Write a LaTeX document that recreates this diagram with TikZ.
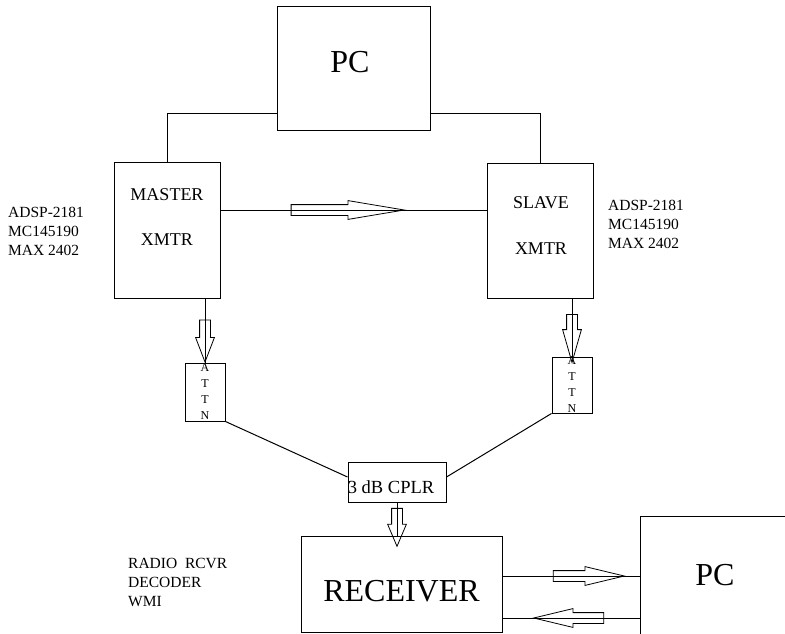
\documentclass[tikz,border=0pt]{standalone}
\usepackage{fontspec}
\setmainfont{Liberation Serif}
\usepackage{tikz}
\usetikzlibrary{shapes,shapes.arrows,arrows,positioning,calc}

\tikzset{
  blockbox/.style={draw, line width=1pt, inner sep=0pt},
  wire/.style={line width=1pt},
  fatarrow/.style={single arrow, draw, line width=0.8pt, inner sep=5pt,
    single arrow head extend=4pt, single arrow tip angle=#1},
  fatarrow/.default=30,
  bigtext/.style={font=\fontsize{32}{36}\selectfont},
  midtext/.style={font=\fontsize{18}{20}\selectfont},
  chips/.style={font=\fontsize{15.5}{19}\selectfont, align=left, inner sep=0pt, anchor=west},
  attnbox/.style={blockbox, minimum width=40pt, font=\fontsize{12}{16}\selectfont, align=center}
}

\begin{document}
\begin{tikzpicture}[x=1pt,y=-1pt]
  \useasboundingbox (0,0) rectangle (785,634);
  \clip (0,0) rectangle (785,634);

  % Top PC
  \node[blockbox, minimum width=153pt, minimum height=123pt] (pcTop) at (353.5,68.5) {};
  \node[bigtext] (pcTopText) at (350,62) {PC};

  % Transmitters
  \node[blockbox, minimum width=106pt, minimum height=136pt] (master) at (167,230) {};
  \node[midtext] (masterTop) at (167,195) {MASTER};
  \node[midtext] (masterBot) at (167,240) {XMTR};
  \node[blockbox, minimum width=106pt, minimum height=135pt] (slave) at (540,230.5) {};
  \node[midtext] (slaveTop) at (541,203) {SLAVE};
  \node[midtext] (slaveBot) at (541,249) {XMTR};

  % Chip lists
  \node[chips] (chipsL) at (8,231) {ADSP-2181\\MC145190\\MAX 2402};
  \node[chips] (chipsR) at (608,224) {ADSP-2181\\MC145190\\MAX 2402};
  \node[chips] (rcvrList) at (128,582) {RADIO\ \ RCVR\\DECODER\\WMI};

  % Attenuators and coupler
  \node[attnbox, minimum height=58pt] (attnL) at (205,392) {A\\T\\T\\N};
  \node[attnbox, minimum height=56pt] (attnR) at (572,385) {A\\T\\T\\N};
  \node[blockbox, minimum width=98pt, minimum height=40pt] (cplr) at (397,482) {};
  \node[font=\fontsize{18.5}{20}\selectfont] (cplrText) at (391,487) {3 dB CPLR};

  % Receiver and bottom PC
  \node[blockbox, minimum width=201pt, minimum height=96pt] (rcvr) at (401.5,584) {};
  \node[bigtext] (rcvrText) at (401.5,591) {RECEIVER};
  \node[blockbox, minimum width=160pt, minimum height=124pt] (pcBot) at (720,578) {};
  \node[bigtext] (pcBotText) at (715,575) {PC};

  % PC to transmitters
  \draw[wire] ([yshift=-44.5pt]pcTop.west) -| (master.north);
  \draw[wire] ([yshift=-44.5pt]pcTop.east) -| (slave.north);

  % Master to slave link
  \draw[wire] ([yshift=20pt]master.east) -- ([yshift=20pt]master.east -| slave.west);
  \node[fatarrow=19, minimum height=113pt] (arrowMS) at (331.5,210) {};

  % Down to attenuators
  \draw[wire] (master.south -| attnL.north) -- (attnL.north);
  \node[fatarrow=42, minimum height=42pt, rotate=-90] (arrowML) at (205,334) {};
  \draw[wire] (slave.south -| attnR.north) -- (attnR.north);
  \node[fatarrow=32, minimum height=48pt, rotate=-90] (arrowSR) at (572,329) {};

  % Attenuators to coupler
  \draw[wire] (attnL.south east) -- ([yshift=5pt]cplr.west);
  \draw[wire] (attnR.south west) -- ([yshift=5pt]cplr.east);

  % Coupler to receiver
  \draw[wire] (cplr.south) -- (cplr.south |- rcvr.north);
  \node[fatarrow=46, minimum height=38pt, rotate=-90] (arrowCR) at (397,521) {};

  % Receiver and PC
  \draw[wire] ([yshift=8pt]rcvr.east) -- ([yshift=8pt]rcvr.east -| pcBot.west);
  \node[fatarrow=27, minimum height=71pt] (arrowRP) at (577.5,576) {};
  \draw[wire] ([yshift=-34pt]rcvr.east) -- ([yshift=-34pt]rcvr.east -| pcBot.west);
  \node[fatarrow=27, minimum height=70pt, rotate=180] (arrowPR) at (580,618) {};
\end{tikzpicture}
\end{document}
